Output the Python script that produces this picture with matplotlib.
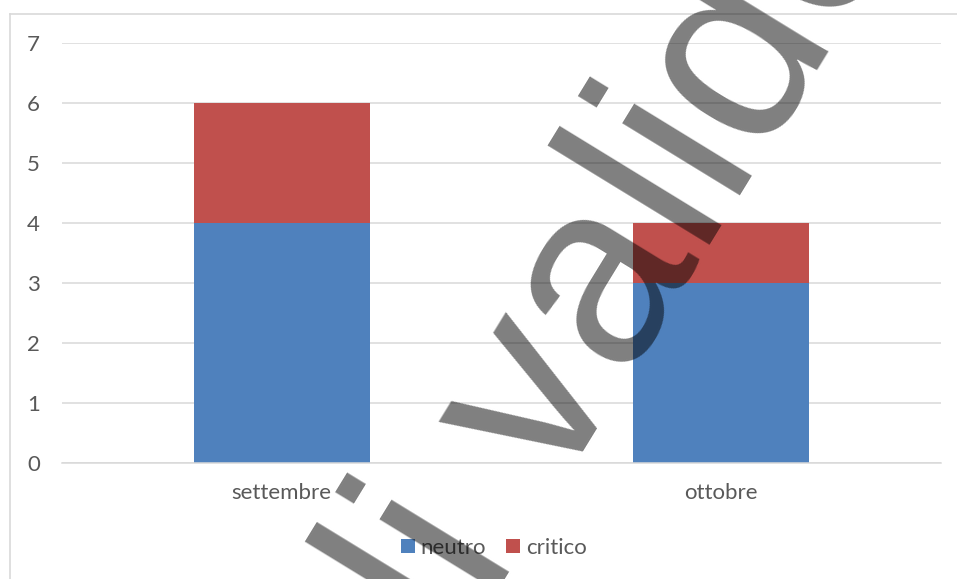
import matplotlib.pyplot as plt
from matplotlib.lines import Line2D

# Data
months = ["settembre", "ottobre"]
neutro = [4, 3]
critico = [2, 1]
y_ticks = [0, 1, 2, 3, 4, 5, 6, 7]

plt.rcParams['font.family'] = ['Lato', 'DejaVu Sans']

fig = plt.figure(figsize=(9.57, 5.79), dpi=100)
fig.patch.set_facecolor('white')
ax = fig.add_axes([62 / 957, 116 / 579, 879 / 957, 420 / 579])

x = range(len(months))
ax.bar(x, neutro, width=0.4, color='#4F81BD', label='neutro', zorder=2)
ax.bar(x, critico, width=0.4, bottom=neutro, color='#C0504D', label='critico', zorder=2)

ax.set_xlim(-0.5, 1.5)
ax.set_ylim(0, 7)
ax.set_yticks(y_ticks)
ax.set_xticks(list(x))
ax.set_xticklabels(months)

# grid and spines
ax.yaxis.grid(True, color='#d9d9d9', linewidth=1.1, zorder=0)
ax.set_axisbelow(True)
for side in ['top', 'right', 'left']:
    ax.spines[side].set_visible(False)
ax.spines['bottom'].set_color('#d9d9d9')
ax.spines['bottom'].set_linewidth(1.1)
ax.tick_params(axis='both', length=0, labelsize=16, labelcolor='#595959')
ax.tick_params(axis='y', pad=16)
ax.tick_params(axis='x', pad=14.5)

# legend
fig.legend(loc='center', bbox_to_anchor=(494 / 957, 31 / 579), ncol=2, frameon=False,
           fontsize=16, labelcolor='#595959', handlelength=0.63, handleheight=0.63,
           handletextpad=0.25, columnspacing=0.9)

# chart area border (top and left visible)
fig.add_artist(Line2D([10 / 957, 1.0], [1 - 14 / 579, 1 - 14 / 579], color='#d9d9d9',
                      linewidth=1.2, transform=fig.transFigure))
fig.add_artist(Line2D([10 / 957, 10 / 957], [0.0, 1 - 14 / 579], color='#d9d9d9',
                      linewidth=1.2, transform=fig.transFigure))

# watermark
fig.text(458 / 957, 1 - 655 / 579, "li valido", fontsize=188, family='Liberation Sans',
         color='black', alpha=0.5, rotation=58.5, rotation_mode='anchor',
         ha='left', va='baseline', zorder=10)

fig.savefig('out.png', dpi=100, facecolor='white')
